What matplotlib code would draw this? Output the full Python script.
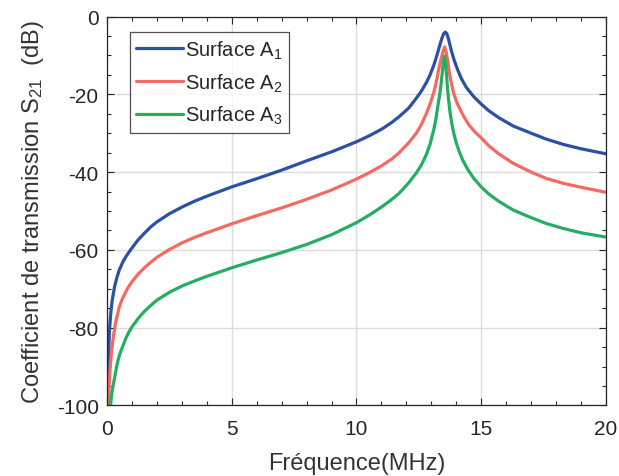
import matplotlib
matplotlib.use("Agg")
import matplotlib.pyplot as plt
from matplotlib.ticker import MultipleLocator

plt.rcParams['font.family'] = ['Liberation Sans', 'DejaVu Sans']
plt.rcParams['mathtext.fontset'] = 'custom'
plt.rcParams['mathtext.rm'] = 'Liberation Sans'
plt.rcParams['mathtext.default'] = 'regular'
plt.rcParams['axes.unicode_minus'] = False

# ---- data ----
freq_a1 = [0.02, 0.05, 0.1, 0.15, 0.2, 0.3, 0.4, 0.5, 0.65, 0.8, 1, 1.25, 1.5, 1.75, 2,
           2.5, 3, 3.5, 4, 5, 6, 7, 8, 9, 10, 10.5, 11, 11.4, 11.7, 12.1, 12.4, 12.6,
           12.8, 12.95, 13.1, 13.2, 13.3, 13.38, 13.45, 13.5, 13.56, 13.62, 13.68,
           13.75, 13.82, 13.92, 14.05, 14.2, 14.4, 14.7, 15, 15.3, 15.7, 16.3, 17,
           17.6, 18.3, 19, 20]
s21_a1 = [-100, -89, -80.5, -76.3, -73.3, -69.5, -67.0, -65.0, -62.9, -61.3, -59.5,
          -57.4, -55.7, -54.1, -52.8, -50.7, -49.0, -47.5, -46.2, -43.8, -41.7, -39.5,
          -37.1, -34.8, -32.2, -30.7, -29.0, -27.3, -25.8, -23.5, -21.0, -19.2, -17.0,
          -15.0, -12.5, -10.5, -8.3, -6.5, -5.1, -4.4, -4.0, -4.4, -5.6, -7.4, -9.2,
          -11.3, -13.6, -15.9, -18.2, -20.6, -22.5, -24.2, -26.0, -28.2, -30.0, -31.5,
          -32.9, -34.0, -35.3]

freq_a2 = [0.05, 0.07, 0.1, 0.13, 0.17, 0.25, 0.35, 0.5, 0.62, 0.75, 0.87, 1, 1.25,
           1.5, 1.75, 2, 2.5, 3, 3.5, 4, 5, 6, 7, 8, 9, 10, 10.5, 11, 11.4, 11.7, 12.1,
           12.4, 12.6, 12.8, 12.95, 13.1, 13.2, 13.3, 13.38, 13.45, 13.53, 13.6, 13.66,
           13.72, 13.8, 13.9, 14.0, 14.1, 14.3, 14.5, 14.75, 15, 15.3, 15.7, 16.3, 17,
           17.6, 18.3, 19, 20]
s21_a2 = [-100, -97, -93, -90, -87, -82.5, -78.5, -74.5, -72.5, -70.8, -69.4, -68.2,
          -66.2, -64.6, -63.2, -61.9, -59.9, -58.2, -56.8, -55.6, -53.3, -51.2, -49.2,
          -47.0, -44.6, -41.8, -40.2, -38.4, -36.7, -35.1, -32.4, -30.0, -27.8, -25.0,
          -22.5, -19.5, -16.8, -13.5, -11.2, -9.5, -7.8, -9.3, -11.5, -14.3, -17.0,
          -19.8, -21.7, -23.2, -25.7, -27.8, -29.7, -31.2, -33.2, -35.3, -37.8, -40.0,
          -41.6, -42.9, -43.9, -45.2]

freq_a3 = [0.14, 0.17, 0.2, 0.25, 0.3, 0.4, 0.5, 0.6, 0.75, 0.87, 1, 1.25, 1.5, 1.75,
           2, 2.5, 3, 3.5, 4, 5, 6, 7, 8, 9, 10, 10.5, 11, 11.4, 11.7, 12.1, 12.4, 12.6,
           12.8, 12.95, 13.1, 13.18, 13.25, 13.32, 13.38, 13.43, 13.47, 13.53, 13.57,
           13.61, 13.65, 13.7, 13.75, 13.82, 13.9, 14.0, 14.1, 14.25, 14.45, 14.7, 15,
           15.3, 15.7, 16.3, 17, 17.6, 18.3, 19, 20]
s21_a3 = [-100, -98.2, -96.5, -94.6, -93.0, -89.5, -87.0, -85.3, -82.8, -81.2, -79.8,
          -77.6, -75.8, -74.3, -72.9, -70.9, -69.3, -68.0, -66.8, -64.6, -62.6, -60.7,
          -58.6, -56.1, -53.0, -51.1, -49.0, -47.1, -45.5, -42.7, -40.2, -38.2, -35.5,
          -32.8, -29.0, -26.5, -23.5, -20.7, -18.0, -15.0, -12.5, -10.2, -12.0, -15.0,
          -18.5, -21.8, -24.6, -27.5, -30.0, -32.5, -34.4, -36.8, -39.2, -41.6, -43.8,
          -45.6, -47.5, -49.8, -51.7, -53.2, -54.5, -55.6, -56.7]

labels = ['Surface A$_1$', 'Surface A$_2$', 'Surface A$_3$']
colors = ['#2b50a6', '#f26a62', '#25ad62']

x_ticks = [0, 5, 10, 15, 20]
y_ticks = [-100, -80, -60, -40, -20, 0]

# ---- figure ----
fig = plt.figure(figsize=(6.19, 4.77), dpi=100)
ax = fig.add_axes([0.1729, 0.1478, 0.806, 0.8155])

for xs, ys, lab, col in zip([freq_a1, freq_a2, freq_a3], [s21_a1, s21_a2, s21_a3],
                            labels, colors):
    ax.plot(xs, ys, color=col, lw=2.3, label=lab, solid_joinstyle='round',
            solid_capstyle='round')

ax.set_xlim(0, 20)
ax.set_ylim(-100, 0)
ax.set_xticks(x_ticks)
ax.set_yticks(y_ticks)
ax.xaxis.set_minor_locator(MultipleLocator(1))
ax.yaxis.set_minor_locator(MultipleLocator(5))

dark = '#262626'
ax.tick_params(which='both', direction='in', top=True, right=True, colors=dark,
               labelsize=15, width=0.8)
ax.tick_params(which='major', length=5)
ax.tick_params(which='minor', length=3)
ax.tick_params(axis='x', which='major', pad=10)
ax.tick_params(axis='y', which='major', pad=6)
for sp in ax.spines.values():
    sp.set_color(dark)
    sp.set_linewidth(0.9)

ax.grid(True, which='major', color='#dcdcdc', lw=1.0)
ax.set_axisbelow(True)

ax.set_xlabel('Fréquence(MHz)', fontsize=17, color='#333333', labelpad=10)
ax.set_ylabel('Coefficient de transmission S$_{21}$  (dB)', fontsize=17,
              color='#333333', labelpad=8)

leg = ax.legend(loc='upper left', bbox_to_anchor=(0.046, 0.96), borderaxespad=0,
                fontsize=14.5, frameon=True, fancybox=False, handlelength=2.3,
                handletextpad=0.1, labelspacing=0.52, borderpad=0.32)
leg.get_frame().set_edgecolor(dark)
leg.get_frame().set_linewidth(0.9)
for t in leg.get_texts():
    t.set_color(dark)

fig.savefig('out.png', dpi=100)
